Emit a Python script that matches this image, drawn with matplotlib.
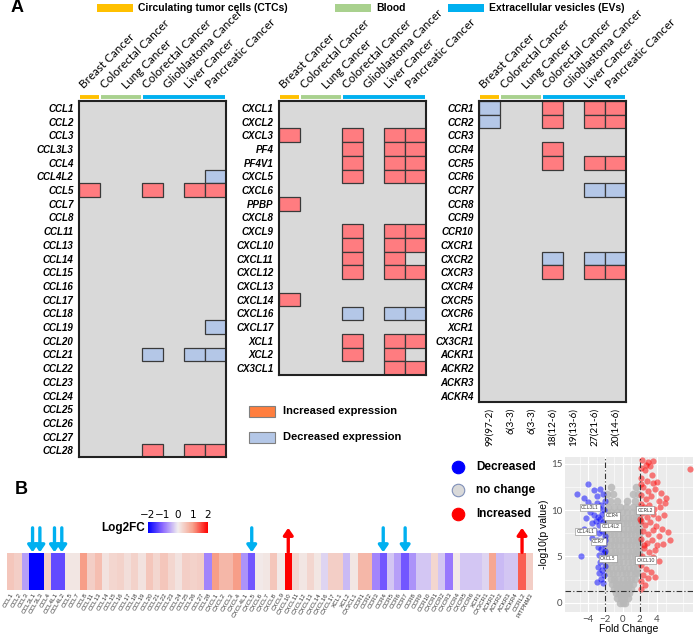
import numpy as np
import matplotlib
matplotlib.use('Agg')
import matplotlib.pyplot as plt
from matplotlib.colors import LinearSegmentedColormap
from matplotlib.patches import Rectangle

plt.rcParams['font.family'] = ['Lato', 'DejaVu Sans']

W, H = 694, 635

# ---------------- data: panel A ----------------
CANCERS = ['Breast Cancer', 'Colorectal Cancer', 'Lung Cancer', 'Colorectal Cancer',
           'Glioblastoma Cancer', 'Liver Cancer', 'Pancreatic Cancer']
SOURCE_NAMES = ['Circulating tumor cells (CTCs)', 'Blood', 'Extracellular vesicles (EVs)']
SOURCE_SPANS = [(0, 1), (1, 3), (3, 7)]          # column ranges of each sample source
COUNTS = ['99(97-2)', '6(3-3)', '6(3-3)', '18(12-6)', '19(13-6)', '27(21-6)', '20(14-6)']

CCL_GENES = ['CCL1', 'CCL2', 'CCL3', 'CCL3L3', 'CCL4', 'CCL4L2', 'CCL5', 'CCL7', 'CCL8',
             'CCL11', 'CCL13', 'CCL14', 'CCL15', 'CCL16', 'CCL17', 'CCL18', 'CCL19',
             'CCL20', 'CCL21', 'CCL22', 'CCL23', 'CCL24', 'CCL25', 'CCL26', 'CCL27', 'CCL28']
CCL_CHANGES = {
    'CCL4L2': [0, 0, 0, 0, 0, 0, -1],
    'CCL5':   [1, 0, 0, 1, 0, 1, 1],
    'CCL19':  [0, 0, 0, 0, 0, 0, -1],
    'CCL21':  [0, 0, 0, -1, 0, -1, -1],
    'CCL28':  [0, 0, 0, 1, 0, 1, 1],
}

CXCL_GENES = ['CXCL1', 'CXCL2', 'CXCL3', 'PF4', 'PF4V1', 'CXCL5', 'CXCL6', 'PPBP', 'CXCL8',
              'CXCL9', 'CXCL10', 'CXCL11', 'CXCL12', 'CXCL13', 'CXCL14', 'CXCL16', 'CXCL17',
              'XCL1', 'XCL2', 'CX3CL1']
CXCL_CHANGES = {
    'CXCL3':  [1, 0, 0, 1, 0, 1, 1],
    'PF4':    [0, 0, 0, 1, 0, 1, 1],
    'PF4V1':  [0, 0, 0, 1, 0, 1, 1],
    'CXCL5':  [0, 0, 0, 1, 0, 1, 1],
    'PPBP':   [1, 0, 0, 0, 0, 0, 0],
    'CXCL9':  [0, 0, 0, 1, 0, 1, 1],
    'CXCL10': [0, 0, 0, 1, 0, 1, 1],
    'CXCL11': [0, 0, 0, 1, 0, 1, 0],
    'CXCL12': [0, 0, 0, 1, 0, 1, 1],
    'CXCL14': [1, 0, 0, 0, 0, 0, 0],
    'CXCL16': [0, 0, 0, -1, 0, -1, -1],
    'XCL1':   [0, 0, 0, 1, 0, 1, 1],
    'XCL2':   [0, 0, 0, 1, 0, 1, 0],
    'CX3CL1': [0, 0, 0, 0, 0, 1, 1],
}

CCR_GENES = ['CCR1', 'CCR2', 'CCR3', 'CCR4', 'CCR5', 'CCR6', 'CCR7', 'CCR8', 'CCR9', 'CCR10',
             'CXCR1', 'CXCR2', 'CXCR3', 'CXCR4', 'CXCR5', 'CXCR6', 'XCR1', 'CX3CR1',
             'ACKR1', 'ACKR2', 'ACKR3', 'ACKR4']
CCR_CHANGES = {
    'CCR1':  [-1, 0, 0, 1, 0, 1, 1],
    'CCR2':  [-1, 0, 0, 1, 0, 1, 1],
    'CCR4':  [0, 0, 0, 1, 0, 0, 0],
    'CCR5':  [0, 0, 0, 1, 0, 1, 1],
    'CCR7':  [0, 0, 0, 0, 0, -1, -1],
    'CXCR2': [0, 0, 0, -1, 0, -1, -1],
    'CXCR3': [0, 0, 0, 1, 0, 1, 1],
}

# ---------------- data: panel B ----------------
STRIP_GENES = ['CCL1', 'CCL2', 'CCL3', 'CCL3L1', 'CCL3L3', 'CCL4', 'CCL4L1', 'CCL4L2', 'CCL5',
               'CCL7', 'CCL8', 'CCL11', 'CCL13', 'CCL14', 'CCL15', 'CCL16', 'CCL17', 'CCL18',
               'CCL19', 'CCL20', 'CCL21', 'CCL22', 'CCL23', 'CCL24', 'CCL25', 'CCL26', 'CCL27',
               'CCL28', 'CXCL1', 'CXCL2', 'CXCL3', 'CXCL4', 'CXCL4L1', 'CXCL5', 'CXCL6', 'CXCL7',
               'CXCL8', 'CXCL9', 'CXCL10', 'CXCL11', 'CXCL12', 'CXCL13', 'CXCL14', 'CXCL16',
               'CXCL17', 'XCL1', 'XCL2', 'CX3CL1', 'CCR1', 'CCR2', 'CCR3', 'CCR4', 'CCR5', 'CCR6',
               'CCR7', 'CCR8', 'CCR9', 'CCR10', 'CXCR1', 'CXCR2', 'CXCR3', 'CXCR4', 'CXCR5',
               'CXCR6', 'XCR1', 'CX3CR1', 'ACKR1', 'ACKR2', 'ACKR3', 'ACKR4', 'CCRL2', 'PITPNM3']
STRIP_LOG2FC = [0.5, 0.4, -0.6, -2.0, -2.0, 0.4, -1.3, -1.3, 0.1, 0.1,
                1.0, 0.4, 0.6, 0.15, 0.3, 0.35, 0.2, 0.35, 0.15, 0.5,
                0.3, 0.5, 0.3, 0.15, 0.4, 0.35, 0.4, -0.8, 1.0, 0.7,
                0.7, 1.0, -0.7, -1.2, 0.05, 0.1, 0.5, 0.05, 2.0, 0.3,
                0.1, 0.3, 0.1, -0.2, 0.4, 0.4, -0.4, 0.1, 0.7, 0.7,
                -0.8, -1.2, -0.3, -0.6, -1.2, -0.7, -0.3, -0.3, 0.3, -0.3,
                -0.9, 0.05, -0.3, -0.3, -0.3, -0.2, 0.9, -0.4, -0.3, -0.3,
                1.4, 0.4]
DOWN_ARROWS = ['CCL3L1', 'CCL3L3', 'CCL4L1', 'CCL4L2', 'CXCL5', 'CCR4', 'CCR7']
UP_ARROWS = ['CXCL10', 'CCRL2']

# volcano plot points (fold change, -log10 p)
DOWN_PTS = [(-5.3, 11.8), (-4.5, 11.3), (-4.0, 12.8), (-3.3, 12.2), (-3.0, 11.5), (-2.6, 12.3),
            (-2.3, 11.8), (-4.8, 5.1), (-3.5, 10.5), (-3.0, 10.8), (-2.8, 10.2), (-2.5, 10.6),
            (-3.8, 9.8), (-3.3, 9.5), (-4.2, 9.2), (-2.9, 9.3), (-2.4, 9.6), (-2.2, 10.0),
            (-3.6, 8.6), (-3.1, 8.8), (-2.7, 8.4), (-2.3, 8.7), (-4.5, 8.0), (-3.9, 7.6),
            (-3.3, 7.9), (-2.8, 7.5), (-2.4, 7.8), (-2.1, 7.2), (-3.5, 7.0), (-3.0, 6.8),
            (-2.6, 6.6), (-2.2, 6.3), (-2.9, 6.0), (-2.5, 5.8), (-2.2, 5.4), (-2.7, 5.2),
            (-2.3, 4.8), (-2.6, 4.4), (-2.1, 4.0), (-2.9, 3.9), (-2.4, 3.5), (-2.8, 3.2),
            (-2.2, 3.0), (-2.5, 2.6), (-3.0, 2.2), (-2.3, 2.1), (-3.6, 10.3), (-4.0, 10.9),
            (-2.1, 11.0), (-2.6, 9.0), (-2.0, 8.2), (-2.1, 6.8), (-2.0, 5.6)]
UP_PTS = [(2.3, 15.4), (3.0, 15.2), (3.6, 15.3), (2.1, 14.6), (2.6, 14.3), (3.2, 14.8),
          (7.8, 14.4), (2.2, 13.5), (2.8, 13.2), (3.4, 13.8), (4.0, 13.0), (2.4, 12.5),
          (3.0, 12.1), (3.8, 12.3), (4.5, 11.9), (2.2, 11.6), (2.7, 11.2), (3.3, 11.5),
          (4.2, 11.0), (5.0, 11.3), (2.1, 10.7), (2.5, 10.3), (3.1, 10.6), (3.7, 10.1),
          (4.4, 10.4), (2.3, 9.7), (2.9, 9.3), (3.5, 9.6), (4.1, 9.2), (4.8, 9.5),
          (2.2, 8.8), (2.6, 8.4), (3.2, 8.7), (3.9, 8.3), (4.6, 8.0), (5.3, 7.6),
          (2.4, 7.7), (3.0, 7.4), (3.6, 7.9), (4.3, 7.2), (5.5, 6.8), (2.2, 6.9),
          (2.8, 6.5), (3.4, 6.8), (4.0, 6.2), (4.7, 6.3), (2.5, 5.9), (3.1, 5.5),
          (3.8, 5.7), (2.3, 5.0), (2.9, 4.6), (3.5, 4.9), (4.3, 4.5), (2.2, 4.1),
          (2.7, 3.7), (3.3, 3.3), (2.4, 3.0), (3.0, 2.7), (2.1, 2.4), (2.6, 1.9),
          (2.2, 1.5), (3.8, 2.8), (2.1, 12.8), (2.5, 6.2), (2.0, 9.0), (3.6, 12.9),
          (4.9, 10.8), (2.7, 14.9)]
GRAY_ROWS = [
    (0.0, [-0.3, 0.0, 0.3]),
    (0.5, [-0.6, -0.2, 0.2, 0.6]),
    (1.0, [-0.8, -0.4, 0.0, 0.4, 0.8]),
    (1.5, [-1.0, -0.6, -0.2, 0.2, 0.6, 1.0]),
    (2.0, [-1.2, -0.8, -0.4, 0.0, 0.4, 0.8, 1.2]),
    (2.6, [-1.4, -1.0, -0.5, 0.0, 0.5, 1.0, 1.4]),
    (3.2, [-1.6, -1.1, -0.6, -0.1, 0.4, 0.9, 1.4, 1.7]),
    (3.8, [-1.8, -1.3, -0.8, -0.3, 0.2, 0.7, 1.2, 1.7]),
    (4.4, [-1.9, -1.4, -0.9, -0.4, 0.1, 0.6, 1.1, 1.6, 1.9]),
    (5.0, [-1.9, -1.5, -1.0, -0.5, 0.0, 0.5, 1.0, 1.5, 1.9]),
    (5.6, [-1.9, -1.4, -0.9, -0.4, 0.1, 0.6, 1.1, 1.6, 1.9]),
    (6.2, [-1.9, -1.5, -1.0, -0.5, 0.0, 0.5, 1.0, 1.5, 1.9]),
    (6.8, [-1.9, -1.4, -0.9, -0.4, 0.1, 0.6, 1.1, 1.6, 1.9]),
    (7.4, [-1.9, -1.5, -1.0, -0.5, 0.0, 0.5, 1.0, 1.5, 1.9]),
    (8.0, [-1.9, -1.4, -0.9, -0.4, 0.1, 0.6, 1.1, 1.6, 1.9]),
    (8.6, [-1.9, -1.5, -1.0, -0.5, 0.0, 0.5, 1.0, 1.5, 1.9]),
    (9.2, [-1.9, -1.4, -0.9, -0.4, 0.1, 0.6, 1.1, 1.6, 1.9]),
    (9.8, [-1.8, -1.3, -0.7, -0.1, 0.5, 1.1, 1.7]),
    (10.4, [-1.7, -1.0, -0.3, 0.4, 1.2, 1.8]),
    (11.0, [-1.5, -0.6, 0.5, 1.4]),
    (11.7, [-1.8, -1.1, 1.2, 1.8]),
    (12.5, [-1.4, 1.6]),
]
VOLCANO_LABELS = [('CCL3L1', -3.8, 10.3), ('CCR4', -1.25, 9.4), ('CCL4L2', -1.4, 8.2),
                  ('CCL4L1', -4.3, 7.7), ('CCR7', -2.8, 6.6), ('CXCL5', -1.7, 4.8),
                  ('CCRL2', 2.65, 10.0), ('CXCL10', 2.7, 4.6)]

# ---------------- styles ----------------
SRC_COLORS = ['#FFC000', '#A9D18E', '#00B0F0']
INC = '#FF7C80'
DEC = '#B4C7E7'
BG = '#D9D9D9'
CELL_W, ROW_H, TOP = 21.0, 13.7, 101

fig = plt.figure(figsize=(W / 100, H / 100), dpi=100)


def px_axes(x0, y0, w, h):
    return fig.add_axes([x0 / W, 1 - (y0 + h) / H, w / W, h / H])


def draw_panel(x0, genes, changes, counts=None):
    n = len(genes)
    ax = px_axes(x0, TOP, 7 * CELL_W, n * ROW_H)
    mat = np.array([changes.get(g, [0] * 7) for g in genes])
    ax.set_facecolor(BG)
    for i, j in np.argwhere(mat != 0):
        ax.add_patch(Rectangle((j, i), 1, 1, facecolor=INC if mat[i, j] > 0 else DEC,
                               edgecolor='#3A3A3A', lw=0.9))
    ax.set_xlim(0, 7)
    ax.set_ylim(n, 0)
    ax.set_xticks([])
    ax.set_yticks(np.arange(n) + 0.5)
    ax.set_yticklabels(genes, fontstyle='italic', fontweight='bold', fontsize=7,
                       family=['Liberation Sans', 'DejaVu Sans'])
    ax.tick_params(axis='y', length=0, pad=4)
    for s in ax.spines.values():
        s.set_linewidth(1.5)
        s.set_color('#222222')
    for (a, b), c in zip(SOURCE_SPANS, SRC_COLORS):
        ax.plot([a + 0.05, b - 0.05], [-0.31, -0.31], color=c, lw=2.8,
                solid_capstyle='butt', clip_on=False)
    for j, name in enumerate(CANCERS):
        ax.text(j + 0.25, -0.85, name, rotation=45, rotation_mode='anchor',
                ha='left', va='baseline', fontsize=8.4, clip_on=False)
    if counts:
        for j, c in enumerate(counts):
            ax.text(j + 0.5, n + 0.4, c, rotation=90, ha='center', va='top',
                    fontsize=7.2, clip_on=False)
    return ax


draw_panel(79, CCL_GENES, CCL_CHANGES)
draw_panel(279, CXCL_GENES, CXCL_CHANGES)
draw_panel(479, CCR_GENES, CCR_CHANGES, COUNTS)

# ---------------- panel B strip ----------------
cmap = LinearSegmentedColormap.from_list(
    'l2fc', [(0, '#0000FF'), (0.25, '#8F6CFF'), (0.5, '#F2EEEE'), (0.75, '#F7A08A'), (1, '#FF0000')])
n_strip = len(STRIP_GENES)
axs = px_axes(7, 553, 526, 37)
im = axs.imshow(np.array(STRIP_LOG2FC)[np.newaxis, :], cmap=cmap, vmin=-2, vmax=2,
                aspect='auto', extent=(0, n_strip, 0, 1))
axs.set_xlim(0, n_strip)
axs.set_yticks([])
axs.set_xticks(np.arange(n_strip) + 0.5)
axs.set_xticklabels(STRIP_GENES, rotation=60, ha='right', rotation_mode='anchor',
                    fontsize=4.5, color='#333333', family=['Liberation Sans', 'DejaVu Sans'])
axs.tick_params(axis='x', length=0, pad=1.5)
for s in axs.spines.values():
    s.set_visible(False)
for genes, col, up in [(DOWN_ARROWS, '#00B0F0', False), (UP_ARROWS, '#FF0000', True)]:
    for g in genes:
        x = STRIP_GENES.index(g) + 0.5
        tip, tail = (1.68, 1.02) if up else (1.02, 1.68)
        axs.annotate('', xy=(x, tip), xycoords=('data', 'axes fraction'),
                     xytext=(x, tail), textcoords=('data', 'axes fraction'),
                     arrowprops=dict(arrowstyle='-|>,head_width=0.35,head_length=0.5',
                                     color=col, lw=2.4, mutation_scale=8,
                                     shrinkA=0, shrinkB=0))

cax = px_axes(148, 522, 60, 11)
cb = fig.colorbar(im, cax=cax, orientation='horizontal', ticks=[-2, -1, 0, 1, 2])
cb.outline.set_visible(False)
cax.xaxis.set_ticks_position('top')
cax.tick_params(axis='x', length=0, pad=1.5, labelsize=7.5)
for t in cax.get_xticklabels():
    t.set_family(['DejaVu Sans'])

# ---------------- volcano ----------------
axv = px_axes(565, 457, 128, 155)
axv.set_facecolor('#EBEBEB')
axv.set_xlim(-6.7, 8.2)
axv.set_ylim(-1.0, 15.75)
axv.set_xticks([-4, -2, 0, 2, 4])
axv.set_yticks([0, 5, 10, 15])
axv.set_xticks([-5, -3, -1, 1, 3, 5, 7], minor=True)
axv.set_yticks([2.5, 7.5, 12.5], minor=True)
axv.grid(True, which='major', color='white', lw=0.8)
axv.grid(True, which='minor', color='white', lw=0.4)
axv.set_axisbelow(True)
for s in axv.spines.values():
    s.set_visible(False)
axv.tick_params(which='both', length=0, labelsize=7, labelcolor='#4D4D4D', pad=2)
gx = [x for y, xs in GRAY_ROWS for x in xs]
gy = [y for y, xs in GRAY_ROWS for x in xs]
axv.scatter(gx, gy, s=30, color='#B8B8B8', alpha=0.85, lw=0)
dp = np.array(DOWN_PTS)
up = np.array(UP_PTS)
axv.scatter(dp[:, 0], dp[:, 1], s=20, color='#0000FF', alpha=0.5, lw=0)
axv.scatter(up[:, 0], up[:, 1], s=20, color='#FF0000', alpha=0.5, lw=0)
for xv in (-2, 2):
    axv.axvline(xv, color='#333333', lw=0.8, ls=(0, (5, 2, 1, 2)))
axv.axhline(1.3, color='#333333', lw=0.8, ls=(0, (5, 2, 1, 2)))
for name, x, y in VOLCANO_LABELS:
    axv.text(x, y, name, fontsize=3.6, ha='center', va='center', color='#333333',
             bbox=dict(boxstyle='square,pad=0.25', fc='white', ec='#888888', lw=0.4))
axv.set_xlabel('Fold Change', fontsize=7.5, labelpad=0, family=['Liberation Sans', 'DejaVu Sans'])
axv.set_ylabel('-log10(p value)', fontsize=7.5, labelpad=1, family=['Liberation Sans', 'DejaVu Sans'])

# ---------------- annotation layer (pixel coordinates) ----------------
ov = fig.add_axes([0, 0, 1, 1], zorder=-1)
ov.set_xlim(0, W)
ov.set_ylim(H, 0)
ov.axis('off')
BOLD = dict(fontweight='bold', family=['Liberation Sans', 'DejaVu Sans'])
ov.text(11, 8, 'A', fontsize=13, va='center', ha='left', **BOLD)
ov.text(15, 489, 'B', fontsize=13, va='center', ha='left', **BOLD)
for x, name, c in zip([97, 335, 448], SOURCE_NAMES, SRC_COLORS):
    ov.add_patch(Rectangle((x, 4), 36, 7.5, color=c, lw=0))
    ov.text(x + 41, 8, name, fontsize=7.5, va='center', ha='left', **BOLD)
for y, name, c in [(406, 'Increased expression', '#FF7E3E'), (432, 'Decreased expression', DEC)]:
    ov.add_patch(Rectangle((249, y), 26, 11, facecolor=c, edgecolor='#7F7F7F', lw=0.8))
    ov.text(283, y + 5.5, name, fontsize=8, va='center', ha='left', **BOLD)
ov.text(145, 527.5, 'Log2FC', fontsize=8.5, va='center', ha='right', **BOLD)
for y, name, fc, ec in [(467, 'Decreased', '#0000FF', '#0000FF'),
                        (490, 'no change', '#D9D9D9', '#7F8FB8'),
                        (514, 'Increased', '#FF0000', '#FF0000')]:
    ov.plot([458], [y], 'o', ms=9, mfc=fc, mec=ec, mew=0.8)
    ov.text(476, y, name, fontsize=8.5, va='center', ha='left', **BOLD)

fig.savefig('out.png', dpi=100)
